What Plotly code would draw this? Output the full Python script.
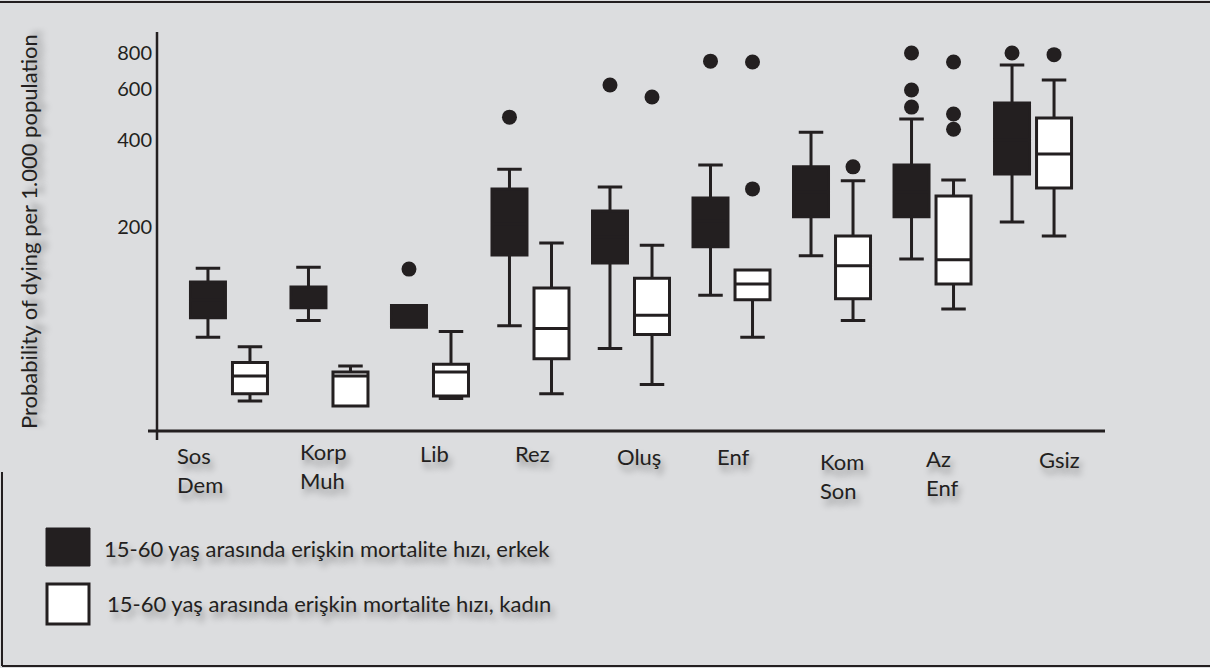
import plotly.graph_objects as go

# ---------------- data ----------------
categories = ["Sos Dem", "Korp Muh", "Lib", "Rez", "Oluş", "Enf", "Kom Son", "Az Enf", "Gsiz"]
cat_labels = ["Sos<br>Dem", "Korp<br>Muh", "Lib", "Rez", "Oluş", "Enf", "Kom<br>Son", "Az<br>Enf", "Gsiz"]

male_low = [83, 95, 90, 91, 76, 116, 159, 155, 208]
male_q1 = [97, 105, 90, 160, 150, 171, 217, 217, 305]
male_median = [112, 114, 98, 205, 185, 210, 265, 265, 400]
male_q3 = [129, 124, 107, 271, 227, 252, 323, 328, 537]
male_high = [144, 145, 107, 317, 275, 328, 426, 473, 727]
male_outliers = [[], [], [143], [480], [620], [750], [], [800, 596, 520], [800]]

female_low = [50, 48, 51, 53, 57, 83, 95, 104, 186]
female_q1 = [53, 48, 52, 70, 85, 112, 113, 127, 273]
female_median = [61, 61, 63, 89, 99, 127, 147, 154, 358]
female_q3 = [68, 63, 67, 123, 133, 142, 186, 256, 477]
female_high = [77, 66, 87, 176, 173, 142, 289, 291, 645]
female_outliers = [[], [], [], [], [564], [745, 271], [323], [745, 492, 436], [790]]

tick_vals = [200, 400, 600, 800]
tick_text = ["200", "400", "600", "800"]

y_title = "Probability of dying per 1.000 population"
legend_male = "15-60 yaş arasında erişkin mortalite hızı, erkek"
legend_female = "15-60 yaş arasında erişkin mortalite hızı, kadın"

# ---------------- styling ----------------
INK = "#231f20"
BG = "#dcdddf"
FONT = "Lato"
SHADOW = "3px 6px 6px rgba(0,0,0,0.35)"

W, H = 1210, 668
L, R, T, B = 157, 105, 32, 237
PW, PH = W - L - R, H - T - B
GAP = 0.164


def px(x):
    return (x - L) / PW


def py(y):
    return (H - B - y) / PH


def flat(outliers):
    xs, ys = [], []
    for cat, vals in zip(categories, outliers):
        for v in vals:
            xs.append(cat)
            ys.append(v)
    return xs, ys


fig = go.Figure()

fig.add_trace(go.Box(
    name="erkek", x=categories,
    q1=male_q1, median=male_median, q3=male_q3,
    lowerfence=male_low, upperfence=male_high,
    boxpoints=False,
    fillcolor=INK, line=dict(color=INK, width=3),
    whiskerwidth=0.7, offsetgroup="m",
))
fig.add_trace(go.Box(
    name="kadın", x=categories,
    q1=female_q1, median=female_median, q3=female_q3,
    lowerfence=female_low, upperfence=female_high,
    boxpoints=False,
    fillcolor="white", line=dict(color=INK, width=3),
    whiskerwidth=0.7, offsetgroup="f",
))

mx, my = flat(male_outliers)
fx, fy = flat(female_outliers)
fig.add_trace(go.Scatter(
    x=mx, y=my, mode="markers", offsetgroup="m", name="erkek",
    marker=dict(color=INK, size=15, line=dict(width=0)),
))
fig.add_trace(go.Scatter(
    x=fx, y=fy, mode="markers", offsetgroup="f", name="kadın",
    marker=dict(color=INK, size=15, line=dict(width=0)),
))

# category labels (left edge / first-line centre, in page pixels)
label_left_px = [175, 298, 418, 513, 615, 715, 818, 924, 1037]
label_mid_px = [455, 451, 453, 453, 456, 456, 461, 458, 459]

annotations = []
for lab, lx, ly in zip(cat_labels, label_left_px, label_mid_px):
    annotations.append(dict(
        text=lab, xref="paper", yref="paper", x=px(lx), y=py(ly - 15),
        xanchor="left", yanchor="top", align="left", showarrow=False,
        font=dict(family=FONT, size=22, color=INK, shadow=SHADOW),
    ))

annotations.append(dict(
    text=y_title, xref="paper", yref="paper", x=px(28), y=py(232),
    xanchor="center", yanchor="middle", textangle=-90, showarrow=False,
    font=dict(family=FONT, size=22, color=INK, shadow=SHADOW),
))
annotations.append(dict(
    text=legend_male, xref="paper", yref="paper", x=px(102), y=py(548),
    xanchor="left", yanchor="middle", showarrow=False,
    font=dict(family=FONT, size=22, color=INK, shadow=SHADOW),
))
annotations.append(dict(
    text=legend_female, xref="paper", yref="paper", x=px(105), y=py(603),
    xanchor="left", yanchor="middle", showarrow=False,
    font=dict(family=FONT, size=22, color=INK, shadow=SHADOW),
))

line_style = dict(color=INK, width=3)
shapes = [
    # y axis
    dict(type="line", xref="paper", yref="paper", x0=0, x1=0, y0=py(440), y1=1, line=dict(color=INK, width=2.5)),
    # x axis
    dict(type="line", xref="paper", yref="paper", x0=px(148), x1=px(1105), y0=0, y1=0, line=line_style),
    # frame: top, left, bottom
    dict(type="line", xref="paper", yref="paper", x0=px(0), x1=px(1210), y0=py(2), y1=py(2), line=dict(color=INK, width=2)),
    dict(type="line", xref="paper", yref="paper", x0=px(2), x1=px(2), y0=py(472), y1=py(666), line=dict(color=INK, width=2)),
    dict(type="line", xref="paper", yref="paper", x0=px(2), x1=px(1210), y0=py(666), y1=py(666), line=dict(color=INK, width=2)),
    # legend swatches
    dict(type="rect", xref="paper", yref="paper", x0=px(46), x1=px(90), y0=py(566), y1=py(528),
         fillcolor=INK, line=dict(color=INK, width=1)),
    dict(type="rect", xref="paper", yref="paper", x0=px(47), x1=px(89), y0=py(624), y1=py(584),
         fillcolor="white", line=dict(color=INK, width=3)),
]

fig.update_layout(
    width=W, height=H,
    margin=dict(l=L, r=R, t=T, b=B, pad=0),
    paper_bgcolor=BG, plot_bgcolor=BG,
    showlegend=False,
    boxmode="group", boxgap=GAP, boxgroupgap=0.167,
    scattermode="group", scattergap=GAP,
    font=dict(family=FONT, color=INK),
    xaxis=dict(type="category", categoryorder="array", categoryarray=categories,
               range=[-0.716, 8.716], showticklabels=False,
               showgrid=False, zeroline=False, showline=False, ticks=""),
    yaxis=dict(type="log", range=[1.595, 2.976], tickvals=tick_vals, ticktext=tick_text,
               showgrid=False, zeroline=False, showline=False, ticks="",
               ticklabelstandoff=4,
               tickfont=dict(family=FONT, size=20, color=INK)),
    annotations=annotations,
    shapes=shapes,
)

fig.write_html("out.html", config={"displayModeBar": False},
               post_script="document.body.style.margin='0';")
